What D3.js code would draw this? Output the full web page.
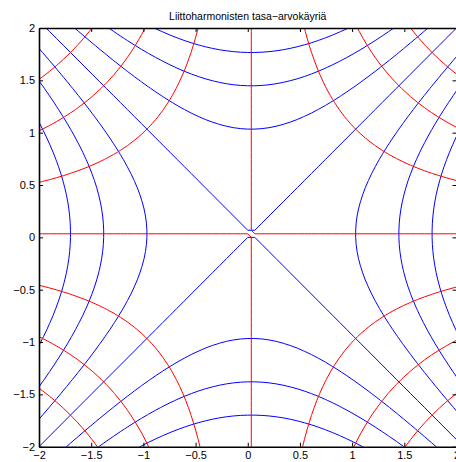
<!DOCTYPE html>
<html>
<head>
<meta charset="utf-8">
<script src="https://cdn.jsdelivr.net/npm/d3@7"></script>
<style>
  body { margin: 0; background: #fff; }
  svg { display: block; font-family: "Liberation Sans", Arial, sans-serif; }
  .axis path, .axis line { stroke: #000; }
  .axis path { stroke-width: 1.6; }
  .axis text { fill: #000; font-size: 11px; }
</style>
</head>
<body>
<svg id="chart" width="456" height="462"></svg>
<script>
// Chart content.
var titleText = "Liittoharmonisten tasa\u2212arvokäyriä";
var xTicks = [-2, -1.5, -1, -0.5, 0, 0.5, 1, 1.5, 2];
var yTicks = [-2, -1.5, -1, -0.5, 0, 0.5, 1, 1.5, 2];
var uLevels = [-3, -2, -1, 0, 1, 2, 3];   // u = x^2 - y^2 (blue)
var vLevels = [-6, -4, -2, 0, 2, 4, 6];   // v = 2xy (red)
var gridSteps = 59;                        // cells across [-2, 2]

var svg = d3.select("#chart");
var margin = { left: 39, right: 456.5, top: 28, bottom: 446.7 };

var xScale = d3.scaleLinear().domain([-2, 2]).range([margin.left, margin.right]);
var yScale = d3.scaleLinear().domain([-2, 2]).range([margin.bottom, margin.top]);

// Sample grid, padded past the axes so the ring edges fall outside the clip.
var pad = 3;
var n = gridSteps + 1 + 2 * pad;
var center = (n - 1) / 2;
var h = 4 / gridSteps;
var uValues = new Float64Array(n * n);
var vValues = new Float64Array(n * n);
for (var j = 0; j < n; j++) {
  var y = (j - center) * h;
  for (var i = 0; i < n; i++) {
    var x = (i - center) * h;
    uValues[j * n + i] = x * x - y * y;
    vValues[j * n + i] = 2 * x * y;
  }
}

var project = d3.geoTransform({
  point: function (gx, gy) {
    this.stream.point(xScale((gx - center) * h), yScale((gy - center) * h));
  }
});
var path = d3.geoPath(project);

svg.append("defs").append("clipPath").attr("id", "plotClip")
  .append("rect")
  .attr("x", xScale(-2)).attr("y", yScale(2))
  .attr("width", xScale(2) - xScale(-2))
  .attr("height", yScale(-2) - yScale(2));

var plot = svg.append("g").attr("clip-path", "url(#plotClip)");

function drawContours(values, levels, color) {
  var contours = d3.contours().size([n, n]).thresholds(levels)(values);
  plot.append("g")
    .selectAll("path")
    .data(contours)
    .enter()
    .append("path")
    .attr("d", path)
    .attr("fill", "none")
    .attr("stroke", color)
    .attr("stroke-width", 1);
}

drawContours(uValues, uLevels, "#0000ff");
drawContours(vValues, vLevels, "#ff0000");

// Axes: ticks point inward, labels on left and bottom only.
var fmt = function (d) { return d < 0 ? "\u2212" + Math.abs(d) : String(d); };

svg.append("g").attr("class", "axis")
  .attr("transform", "translate(0," + margin.bottom + ")")
  .call(d3.axisBottom(xScale).tickValues(xTicks).tickFormat(fmt)
    .tickSizeInner(-4).tickSizeOuter(0).tickPadding(5));

svg.append("g").attr("class", "axis")
  .attr("transform", "translate(" + margin.left + ",0)")
  .call(d3.axisLeft(yScale).tickValues(yTicks).tickFormat(fmt)
    .tickSizeInner(-4).tickSizeOuter(0).tickPadding(4));

svg.append("g").attr("class", "axis")
  .attr("transform", "translate(0," + margin.top + ")")
  .call(d3.axisTop(xScale).tickValues(xTicks).tickFormat("")
    .tickSizeInner(-4).tickSizeOuter(0));

svg.append("g").attr("class", "axis")
  .attr("transform", "translate(" + margin.right + ",0)")
  .call(d3.axisRight(yScale).tickValues(yTicks).tickFormat("")
    .tickSizeInner(-4).tickSizeOuter(0));

svg.append("text")
  .attr("x", (margin.left + margin.right) / 2)
  .attr("y", 19.5)
  .attr("text-anchor", "middle")
  .style("font-size", "10.5px")
  .text(titleText);
</script>
</body>
</html>
